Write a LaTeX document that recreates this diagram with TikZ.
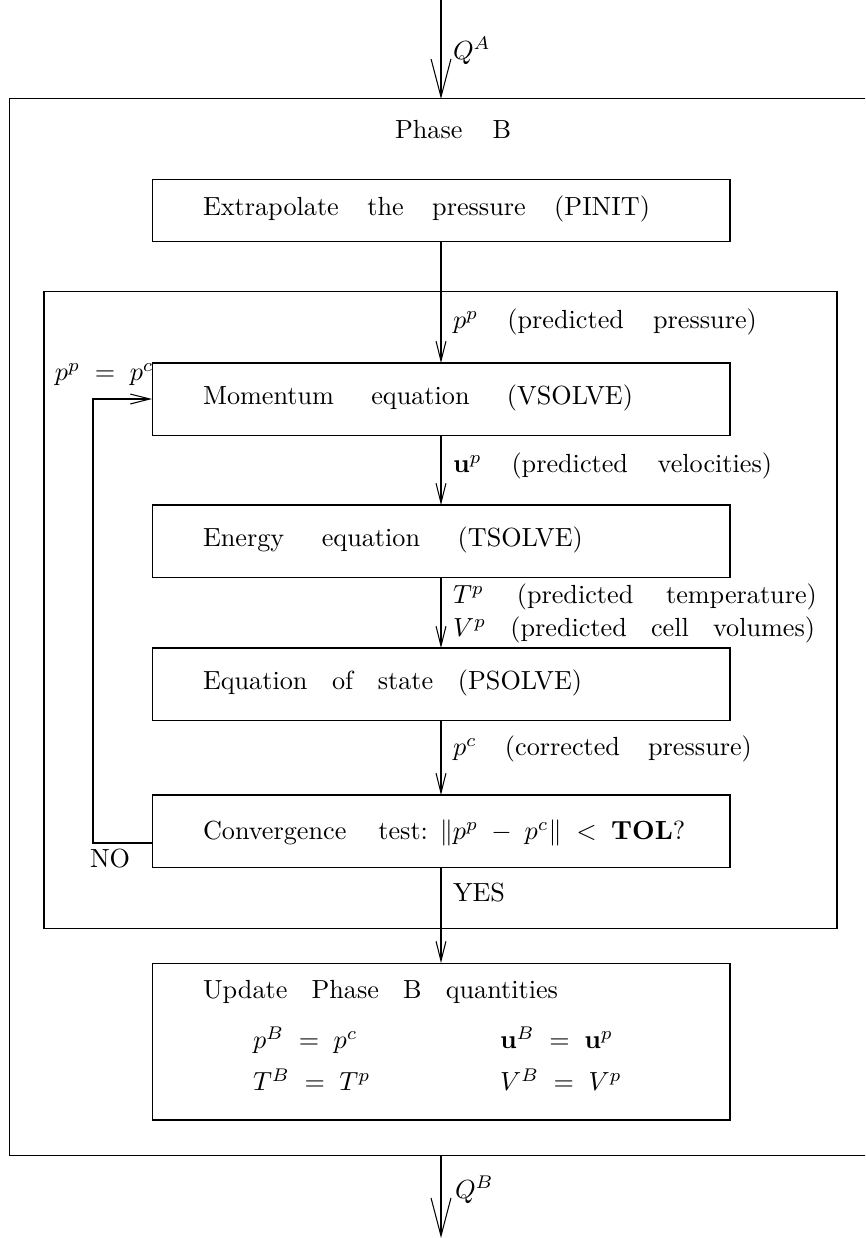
\documentclass[tikz,border=0pt]{standalone}
\usetikzlibrary{arrows.meta}
\tikzset{
  every node/.style={inner sep=0pt, outer sep=0pt},
  box/.style={draw, rectangle, minimum width=220.6pt, minimum height=27.5pt},
  txt/.style={anchor=mid west},
  flow/.style={-{Straight Barb[length=7.5pt,width=3.8pt]}},
  port/.style={-{Straight Barb[length=14.5pt,width=7.6pt]}},
}
% a line of words spread to a given width
\newcommand\spread[2]{\makebox[#1][s]{#2}}
\begin{document}
\begin{tikzpicture}[x=0.3817pt,y=-0.3817pt]
\useasboundingbox (0,0) rectangle (865,1238);
\clip (0,0) rectangle (865,1238);

% frames
\node[draw, rectangle, minimum width=377.9pt, minimum height=403.1pt] (outer) at (505,627) {};
\node[draw, rectangle, minimum width=302.7pt, minimum height=242.8pt] (inner) at (440.5,610) {};

% process boxes
\node[box, minimum height=24.0pt] (pinit) at (441,210.5) {};
\node[box] (mom)    at (441,399) {};
\node[box] (energy) at (441,541) {};
\node[box] (eos)    at (441,684) {};
\node[box] (conv)   at (441,831) {};
\node[box, minimum height=59.9pt] (update) at (441,1041.5) {};

% box texts
\node[txt] (tphase) at (395,133) {\spread{44.3pt}{Phase B}};
\node[txt] (tpinit) at (203,210) {\spread{170.6pt}{Extrapolate the pressure (PINIT)}};
\node[txt] (tmom)   at (203,399) {\spread{164.1pt}{Momentum equation (VSOLVE)}};
\node[txt] (tener)  at (203,541) {\spread{145.0pt}{Energy equation (TSOLVE)}};
\node[txt] (teos)   at (203,684) {\spread{144.7pt}{Equation of state (PSOLVE)}};
\node[txt] (tconv)  at (203,834) {Convergence\hspace{12.2pt}test:\hspace{4.5pt}$\|p^p\;-\;p^c\|\;<\;\mathbf{TOL}$?};
\node[txt] (tupd)   at (203,993) {\spread{135.5pt}{Update Phase B quantities}};
\node[txt] (tpb)    at (253,1043) {$p^B \;=\; p^c$};
\node[txt] (tub)    at (500,1043) {$\mathbf{u}^B \;=\; \mathbf{u}^p$};
\node[txt] (ttb)    at (253,1085) {$T^B \;=\; T^p$};
\node[txt] (tvb)    at (500,1085) {$V^B \;=\; V^p$};

% labels on the flow
\node[txt] (lpp) at (453,323) {\spread{116.0pt}{$p^p$ (predicted pressure)}};
\node[txt] (lup) at (453,467) {\spread{121.8pt}{$\mathbf{u}^p$ (predicted velocities)}};
\node[txt] (ltp) at (453,598) {\spread{138.9pt}{$T^p$ (predicted temperature)}};
\node[txt] (lvp) at (453,631) {\spread{138.2pt}{$V^p$ (predicted cell volumes)}};
\node[txt] (lpc) at (453,750) {\spread{114.1pt}{$p^c$ (corrected pressure)}};
\node[txt] (lyes) at (453,896) {YES};
\node[txt] (lno)  at (90,862) {NO};
\node[txt] (lset) at (55,375) {$p^p \;=\; p^c$};
\node[anchor=base west] (lqa) at (453,59) {$Q^A$};
\node[anchor=base west] (lqb) at (455,1198) {$Q^B$};

% connectors
\coordinate (qa) at (441,0);
\coordinate (qb) at (441,1238);
\coordinate (fb) at (93,843);
\draw[port] (qa) -- (qa |- outer.north);
\draw[flow] (pinit) -- (mom);
\draw[flow] (mom) -- (energy);
\draw[flow] (energy) -- (eos);
\draw[flow] (eos) -- (conv);
\draw[flow] (conv) -- (update);
\draw[flow] (fb -| conv.west) -- (fb) |- (mom.west);
\draw[port] (qa |- outer.south) -- (qb);
\end{tikzpicture}
\end{document}
